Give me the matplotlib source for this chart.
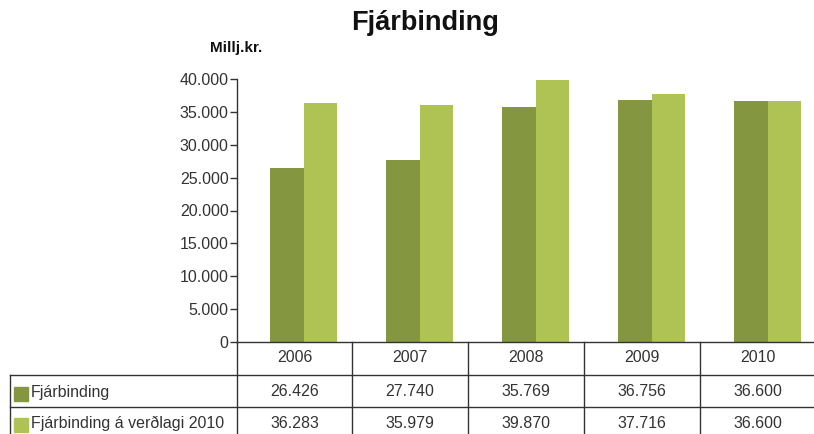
import matplotlib.pyplot as plt
from matplotlib.ticker import FuncFormatter

plt.rcParams['font.family'] = ['Liberation Sans', 'DejaVu Sans']

years = ['2006', '2007', '2008', '2009', '2010']
fjarbinding = [26426, 27740, 35769, 36756, 36600]
fjarbinding_2010 = [36283, 35979, 39870, 37716, 36600]
series_names = ['Fjárbinding', 'Fjárbinding á verðlagi 2010']
colors = ['#84963f', '#afc355']
line_col = '#333333'

W, H = 814, 434
fig = plt.figure(figsize=(W / 100, H / 100), dpi=100)


def fx(px):
    return px / W


def fy(py):
    return 1 - py / H


# main bar axes, pixel box 237..817 x 79..342
ax = fig.add_axes([fx(237), fy(342), fx(580), (342 - 79) / H])
xs = range(len(years))
ax.bar([i - 0.07 for i in xs], fjarbinding, width=0.29, color=colors[0])
ax.bar([i + 0.22 for i in xs], fjarbinding_2010, width=0.29, color=colors[1])
ax.set_xlim(-0.5, len(years) - 0.5)
ax.set_ylim(0, 40000)
ax.set_yticks(range(0, 40001, 5000))
ax.yaxis.set_major_formatter(FuncFormatter(lambda v, p: f'{int(v):,}'.replace(',', '.')))
ax.set_xticks([])
for s in ['top', 'right']:
    ax.spines[s].set_visible(False)
for s in ['left', 'bottom']:
    ax.spines[s].set_color(line_col)
    ax.spines[s].set_linewidth(1.0)
ax.tick_params(axis='y', length=5, width=1.0, color=line_col, labelsize=11.5,
               labelcolor='#333333', pad=1)

# overlay axes in pixel coords for title and data table
ov = fig.add_axes([0, 0, 1, 1])
ov.set_xlim(0, W)
ov.set_ylim(H, 0)
ov.axis('off')

ov.text(425, 23, 'Fjárbinding', ha='center', va='center', fontsize=19.5,
        fontweight='bold', color='#111111')
ov.text(236, 48, 'Millj.kr.', ha='center', va='center', fontsize=11,
        fontweight='bold', color='#111111')

col_edges = [237, 352, 468, 584, 700, 816]
lk = dict(color=line_col, lw=1.0)
ov.plot([10, 816], [375, 375], **lk)
ov.plot([10, 816], [407, 407], **lk)
ov.plot([10, 10], [375, 440], **lk)
for x in col_edges[:-1]:
    ov.plot([x, x], [342, 440], **lk)

tk = dict(ha='center', va='center', fontsize=11.5, color='#333333')
for i, yr in enumerate(years):
    cx = (col_edges[i] + col_edges[i + 1]) / 2
    ov.text(cx, 358, yr, **tk)
    ov.text(cx, 391, f'{fjarbinding[i]:,}'.replace(',', '.'), **tk)
    ov.text(cx, 423, f'{fjarbinding_2010[i]:,}'.replace(',', '.'), **tk)

for name, c, cy in zip(series_names, colors, [394, 425]):
    ov.add_patch(plt.Rectangle((14, cy - 7), 14, 14, color=c))
    ov.text(31, cy - 2, name, ha='left', va='center', fontsize=11.5, color='#333333')

fig.savefig('out.png', dpi=100)
